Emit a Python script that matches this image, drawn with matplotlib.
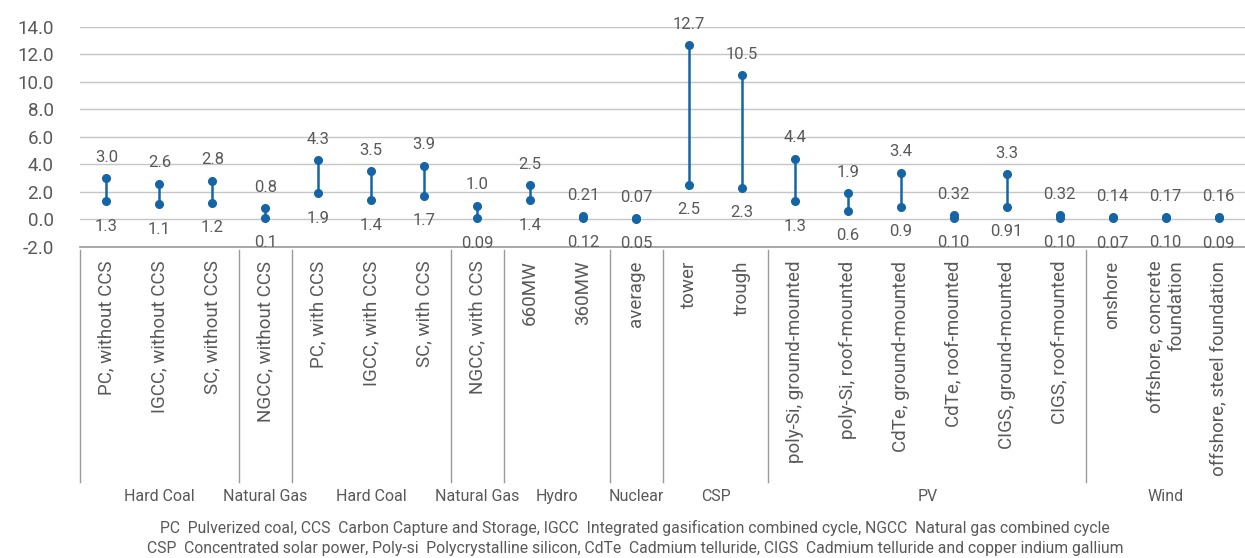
import matplotlib.pyplot as plt
import matplotlib.transforms as mtransforms

plt.rcParams['font.family'] = ['Roboto', 'DejaVu Sans']

categories = [
    "PC, without CCS", "IGCC, without CCS", "SC, without CCS",
    "NGCC, without CCS",
    "PC, with CCS", "IGCC, with CCS", "SC, with CCS",
    "NGCC, with CCS",
    "660MW", "360MW",
    "average",
    "tower", "trough",
    "poly-Si, ground-mounted", "poly-Si, roof-mounted", "CdTe, ground-mounted",
    "CdTe, roof-mounted", "CIGS, ground-mounted", "CIGS, roof-mounted",
    "onshore", "offshore, concrete\nfoundation", "offshore, steel foundation",
]
max_vals = [3.0, 2.6, 2.8, 0.8, 4.3, 3.5, 3.9, 1.0, 2.5, 0.21, 0.07, 12.7, 10.5,
            4.4, 1.9, 3.4, 0.32, 3.3, 0.32, 0.14, 0.17, 0.16]
min_vals = [1.3, 1.1, 1.2, 0.1, 1.9, 1.4, 1.7, 0.09, 1.4, 0.12, 0.05, 2.5, 2.3,
            1.3, 0.6, 0.9, 0.10, 0.91, 0.10, 0.07, 0.10, 0.09]
max_text = ["3.0", "2.6", "2.8", "0.8", "4.3", "3.5", "3.9", "1.0", "2.5", "0.21", "0.07",
            "12.7", "10.5", "4.4", "1.9", "3.4", "0.32", "3.3", "0.32", "0.14", "0.17", "0.16"]
min_text = ["1.3", "1.1", "1.2", "0.1", "1.9", "1.4", "1.7", "0.09", "1.4", "0.12", "0.05",
            "2.5", "2.3", "1.3", "0.6", "0.9", "0.10", "0.91", "0.10", "0.07", "0.10", "0.09"]
groups = ["Hard Coal", "Natural Gas", "Hard Coal", "Natural Gas", "Hydro", "Nuclear",
          "CSP", "PV", "Wind"]
group_sizes = [3, 1, 3, 1, 2, 1, 2, 6, 3]
footnote = ("PC  Pulverized coal, CCS  Carbon Capture and Storage, IGCC  Integrated gasification "
            "combined cycle, NGCC  Natural gas combined cycle\n"
            "CSP  Concentrated solar power, Poly-si  Polycrystalline silicon, CdTe  Cadmium "
            "telluride, CIGS  Cadmium telluride and copper indium gallium")

blue = '#1565a6'
grey = '#595959'

fig = plt.figure(figsize=(12.45, 5.58), dpi=100)
ax = fig.add_axes([80 / 1245, 1 - 246.7 / 558, 1 - 80 / 1245, 219.7 / 558])

x = list(range(len(categories)))
for i in x:
    ax.plot([i, i], [min_vals[i], max_vals[i]], color=blue, lw=1.8,
            marker='o', markersize=5.5, zorder=3)
    ax.annotate(max_text[i], (i, max_vals[i]), xytext=(0, 15), textcoords='offset points',
                ha='center', va='center', fontsize=12, color=grey)
    ax.annotate(min_text[i], (i, min_vals[i]), xytext=(0, -18), textcoords='offset points',
                ha='center', va='center', fontsize=12, color=grey)

ax.set_xlim(-0.5, len(categories) - 0.5)
ax.set_ylim(-2, 14)
ax.set_yticks(range(-2, 15, 2))
ax.set_yticklabels([f"{v:.1f}" for v in range(-2, 15, 2)])
ax.yaxis.grid(True, color='#c6c6c6', lw=1)
ax.set_axisbelow(True)
for s in ['left', 'right', 'top']:
    ax.spines[s].set_visible(False)
ax.spines['bottom'].set_color('#9a9a9a')
ax.spines['bottom'].set_linewidth(1.2)
ax.tick_params(axis='y', length=0, pad=19, labelsize=13.5, labelcolor=grey)
ax.set_xticks(x)
ax.set_xticklabels(categories, rotation=90, va='top', ha='center', multialignment='right',
                   fontsize=13.5, color=grey)
ax.tick_params(axis='x', length=0, pad=10)

trans = mtransforms.blended_transform_factory(ax.transData, ax.transAxes)
start = 0
for name, size in zip(groups, group_sizes):
    ax.plot([start - 0.5, start - 0.5], [-0.015, -1.071], color='#9a9a9a', lw=1,
            transform=trans, clip_on=False)
    ax.text(start + (size - 1) / 2, -1.139, name, transform=trans, ha='center', va='center',
            fontsize=11.5, color=grey)
    start += size

fig.text(0.51, 0.036, footnote, ha='center', va='center', fontsize=11.3, color=grey,
         linespacing=1.45)

fig.savefig('out.png', dpi=100)
